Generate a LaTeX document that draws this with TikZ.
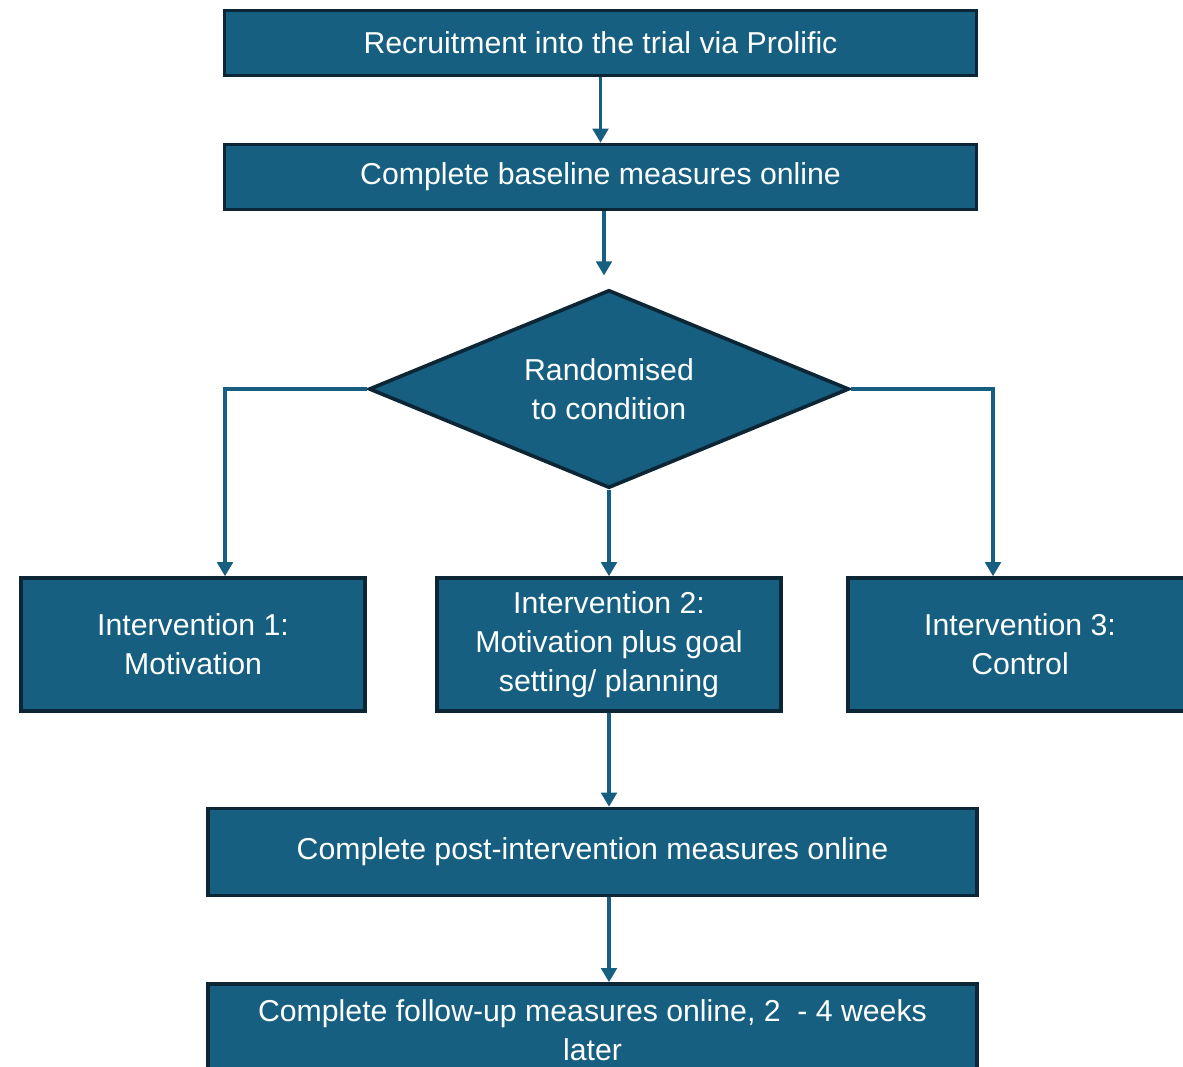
\documentclass[tikz,border=0pt]{standalone}
\usepackage{fontspec}
\setmainfont{Liberation Sans}
\usetikzlibrary{shapes.geometric,arrows.meta}

\definecolor{boxblue}{RGB}{23,95,128}
\definecolor{boxedge}{RGB}{12,38,53}

\tikzset{
  stepbox/.style={draw=boxedge, fill=boxblue, line width=2.6pt, text=white,
    align=center, inner sep=0pt, font=\fontsize{21.5}{27.7}\selectfont},
  flow/.style={draw=boxblue, line width=2.4pt,
    -{Triangle[width=11pt,length=10pt]}},
}

\begin{document}
\begin{tikzpicture}[x=0.025cm, y=-0.025cm]
\useasboundingbox (0,0) rectangle (1183,1066);
% top boxes
\node[stepbox, minimum width=18.8cm, minimum height=1.62cm] (recruit) at (600.5,43) {Recruitment into the trial via Prolific};
\node[stepbox, minimum width=18.8cm, minimum height=1.62cm] (baseline) at (600.5,177) {Complete baseline measures online};
%
\node[stepbox, diamond, aspect=2.42, minimum width=12cm, minimum height=4.95cm] (rand) at (609,389) {Randomised\\to condition};
%
\node[stepbox, minimum width=8.6cm, minimum height=3.32cm] (intone) at (193,644.5) {Intervention 1:\\Motivation};
\node[stepbox, minimum width=8.6cm, minimum height=3.32cm] (inttwo) at (609,644.5) {Intervention 2:\\Motivation plus goal\\setting/ planning};
\node[stepbox, minimum width=8.6cm, minimum height=3.32cm] (intthree) at (1020,644.5) {Intervention 3:\\Control};
%
\node[stepbox, minimum width=19.22cm, minimum height=2.17cm] (post) at (592.5,852) {Complete post-intervention measures online};
\node[stepbox, minimum width=19.22cm, minimum height=2.3cm] (follow) at (592.5,1030) {Complete follow-up measures online, 2\ \ - 4 weeks\\later};
% connectors
\draw[flow] (recruit.south) -- (baseline.north);
\draw[flow, shorten >=9pt] (baseline.south -| 604,0) -- (rand.north -| 604,0);
\draw[flow] (rand.west) -| (intone.north -| 225,0);
\draw[flow] (rand.south) -- (inttwo.north);
\draw[flow] (rand.east) -| (intthree.north -| 993,0);
\draw[flow] (inttwo.south) -- (post.north -| inttwo.south);
\draw[flow] (post.south -| inttwo.south) -- (follow.north -| inttwo.south);
\end{tikzpicture}
\end{document}
